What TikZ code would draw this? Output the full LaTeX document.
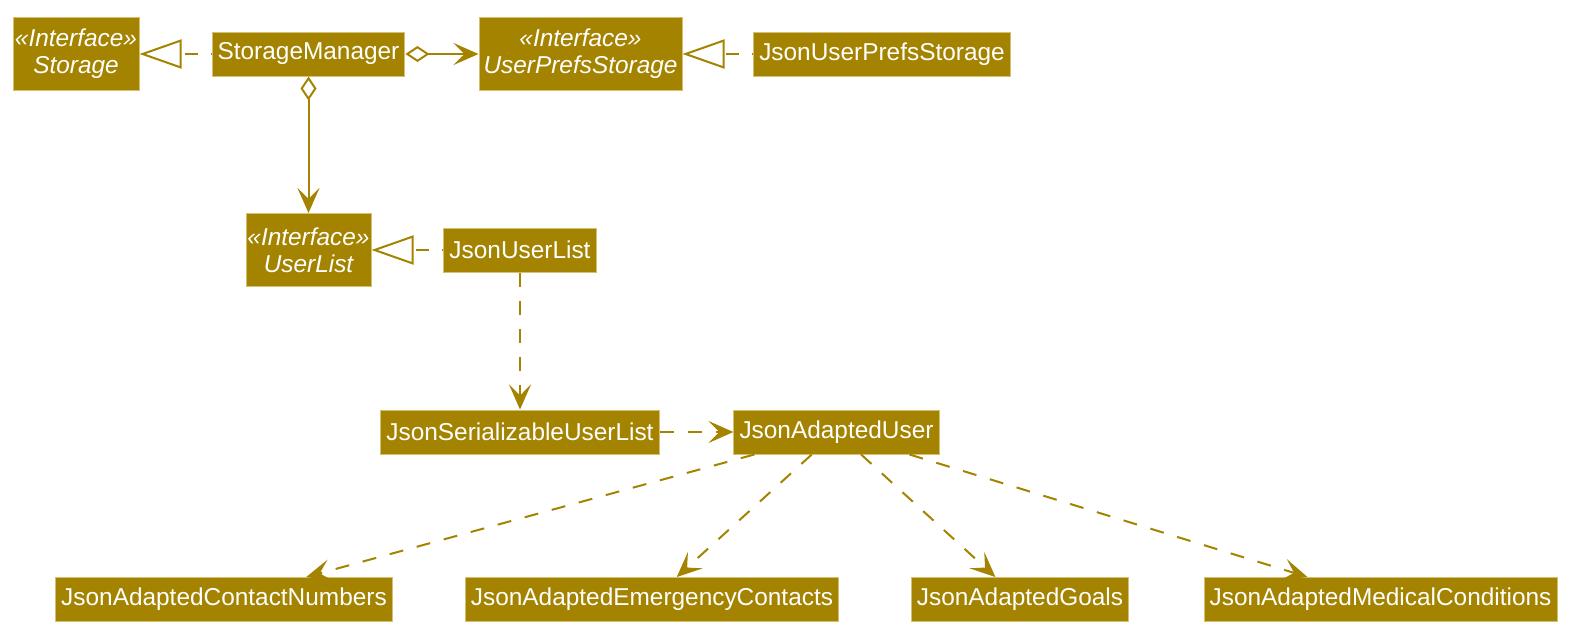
\documentclass[tikz,border=0pt]{standalone}
\usepackage{fontspec}
\setmainfont{Liberation Sans}
\usetikzlibrary{arrows.meta}
\definecolor{umlgold}{RGB}{163,131,0}
\definecolor{umlrim}{RGB}{212,192,112}

\begin{document}
\begin{tikzpicture}
  [x=0.5pt,y=-0.5pt,
   cls/.style={draw=umlrim,line width=0.5pt,fill=umlgold,text=white,
     font=\fontsize{12.2}{14}\selectfont,minimum height=22pt,
     inner xsep=2.8pt,inner ysep=0pt},
   iface/.style={cls,align=center,font=\itshape\fontsize{12.2}{13.5}\selectfont,
     minimum height=36.5pt,inner xsep=0.5pt},
   realize/.style={draw=umlgold,line width=1pt,
     dash pattern=on 6.5pt off 6.5pt,dash phase=6pt,
     -{Triangle[open,length=21pt,width=14.5pt]}},
   depend/.style={draw=umlgold,line width=1pt,dash pattern=on 7pt off 7pt,
     -{Stealth[length=12.5pt,width=11pt,inset=5.5pt]}},
   aggr/.style={draw=umlgold,line width=1pt,
     {Diamond[open,length=12pt,width=8pt]}-{Stealth[length=12.5pt,width=11pt,inset=5.5pt]}}]
  \useasboundingbox (0,0) rectangle (1580,643);

  % storage layer
  \node[iface,minimum width=63pt] (storage) at (76,54) {«Interface»\\Storage};
  \node[cls] (mgr) at (308.5,54) {StorageManager};
  \node[iface,minimum width=101.5pt] (prefs) at (580.5,54) {«Interface»\\UserPrefsStorage};
  \node[cls] (jsonprefs) at (882,54) {JsonUserPrefsStorage};

  \node[iface,minimum width=62.5pt] (userlist) at (308.5,250) {«Interface»\\UserList};
  \node[cls] (jsonlist) at (520,250) {JsonUserList};

  \node[cls] (serial) at (520,432) {JsonSerializableUserList};
  \node[cls] (adapted) at (836.5,432) {JsonAdaptedUser};

  \node[cls] (contact) at (224,599.5) {JsonAdaptedContactNumbers};
  \node[cls] (emergency) at (652,599.5) {JsonAdaptedEmergencyContacts};
  \node[cls] (goals) at (1020,599.5) {JsonAdaptedGoals};
  \node[cls] (medical) at (1380.5,599.5) {JsonAdaptedMedicalConditions};

  \foreach \from/\to in {mgr/storage,jsonprefs/prefs,jsonlist/userlist}
    \draw[realize] (\from) -- (\to);
  \foreach \to in {prefs,userlist}
    \draw[aggr] (mgr) -- (\to);
  \foreach \from/\to in {
    jsonlist/serial,serial/adapted,
    adapted/contact,adapted/emergency,adapted/goals,adapted/medical}
    \draw[depend] (\from) -- (\to);
\end{tikzpicture}
\end{document}
